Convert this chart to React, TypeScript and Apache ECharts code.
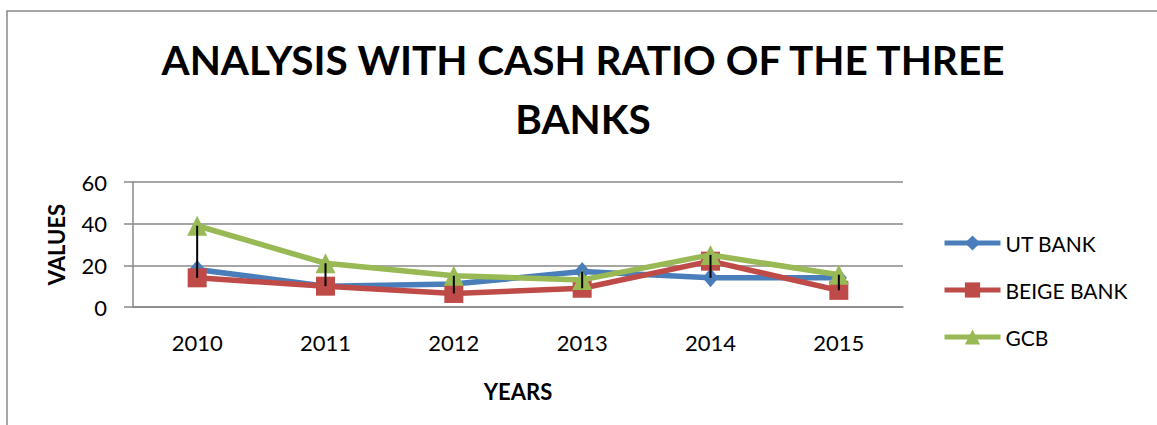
import React, { useEffect, useRef } from "react";
import * as echarts from "echarts";

const years = ["2010", "2011", "2012", "2013", "2014", "2015"];
const utBank = [18, 10, 11, 17, 14, 14];
const beigeBank = [14, 10, 6.5, 9, 22, 8];
const gcb = [39, 21, 15, 13, 25, 15.5];
const seriesNames = ["UT BANK", "BEIGE BANK", "GCB"];

const FONT = "Lato";

export default function App() {
  const ref = useRef<HTMLDivElement>(null);
  useEffect(() => {
    if (!ref.current) return;
    const chart = echarts.init(ref.current, null, { renderer: "svg" });
    const all = [utBank, beigeBank, gcb];
    const hiLo = years.map((_, i) => {
      const vals = all.map((a) => a[i]);
      return [i, Math.max(...vals), Math.min(...vals)];
    });
    const gray = "#888888";
    chart.setOption({
      animation: false,
      backgroundColor: "#ffffff",
      textStyle: { fontFamily: FONT },
      graphic: [
        {
          type: "rect",
          shape: { x: 7, y: 11, width: 1300, height: 600 },
          style: { fill: "none", stroke: gray, lineWidth: 1.5 },
          silent: true,
        },
      ],
      title: {
        text: "ANALYSIS WITH CASH RATIO OF THE THREE\nBANKS",
        left: 583,
        textAlign: "center",
        top: 30,
        padding: 0,
        textStyle: {
          fontFamily: FONT,
          fontWeight: "bold",
          fontSize: 40.5,
          lineHeight: 59,
          color: "#000",
        },
      },
      legend: {
        orient: "vertical",
        left: 942,
        top: 232,
        padding: 0,
        itemWidth: 56,
        itemHeight: 19,
        itemGap: 25,
        data: seriesNames,
        lineStyle: { width: 5 },
        textStyle: { fontFamily: FONT, fontSize: 21, lineHeight: 22, color: "#000" },
      },
      grid: { left: 133, right: 254, top: 182, bottom: 118 },
      xAxis: {
        type: "category",
        data: years,
        boundaryGap: true,
        name: "YEARS",
        nameLocation: "middle",
        nameGap: 73,
        nameTextStyle: { fontFamily: FONT, fontWeight: "bold", fontSize: 22, color: "#000" },
        axisLine: { lineStyle: { color: gray, width: 1.5 } },
        axisTick: { show: false },
        axisLabel: { fontFamily: FONT, fontSize: 22, color: "#000", margin: 24 },
      },
      yAxis: {
        type: "value",
        min: 0,
        max: 60,
        interval: 20,
        name: "VALUES",
        nameLocation: "middle",
        nameGap: 66,
        nameRotate: 90,
        nameTextStyle: { fontFamily: FONT, fontWeight: "bold", fontSize: 22, color: "#000" },
        axisLine: { show: true, lineStyle: { color: gray, width: 1.5 } },
        axisTick: { show: true, length: 9, lineStyle: { color: gray, width: 1.5 } },
        splitLine: { lineStyle: { color: gray, width: 1.5 } },
        axisLabel: { fontFamily: FONT, fontSize: 22, color: "#000", margin: 26 },
      },
      series: [
        {
          name: seriesNames[0],
          type: "line",
          data: utBank,
          color: "#4A7EBB",
          lineStyle: { width: 5.5, color: "#4A7EBB" },
          itemStyle: { color: "#4A7EBB" },
          symbol: "diamond",
          symbolSize: [16, 19],
          z: 2,
        },
        {
          name: seriesNames[1],
          type: "line",
          data: beigeBank,
          color: "#BE4B48",
          lineStyle: { width: 5.5, color: "#BE4B48" },
          itemStyle: { color: "#BE4B48" },
          symbol: "rect",
          symbolSize: 19,
          z: 3,
        },
        {
          name: seriesNames[2],
          type: "line",
          data: gcb,
          color: "#98B954",
          lineStyle: { width: 5.5, color: "#98B954" },
          itemStyle: { color: "#98B954" },
          symbol: "triangle",
          symbolSize: 20,
          z: 4,
        },
        {
          name: "hilo",
          type: "custom",
          z: 10,
          silent: true,
          data: hiLo,
          renderItem: (params: any, api: any) => {
            const i = api.value(0);
            const p1 = api.coord([i, api.value(1)]);
            const p2 = api.coord([i, api.value(2)]);
            return {
              type: "line",
              shape: { x1: p1[0], y1: p1[1], x2: p2[0], y2: p2[1] },
              style: { stroke: "#000", lineWidth: 2 },
            };
          },
        },
      ],
    });
    return () => chart.dispose();
  }, []);
  return (
    <div
      ref={ref}
      style={{ position: "absolute", left: 0, top: 0, width: 1157, height: 425 }}
    />
  );
}
